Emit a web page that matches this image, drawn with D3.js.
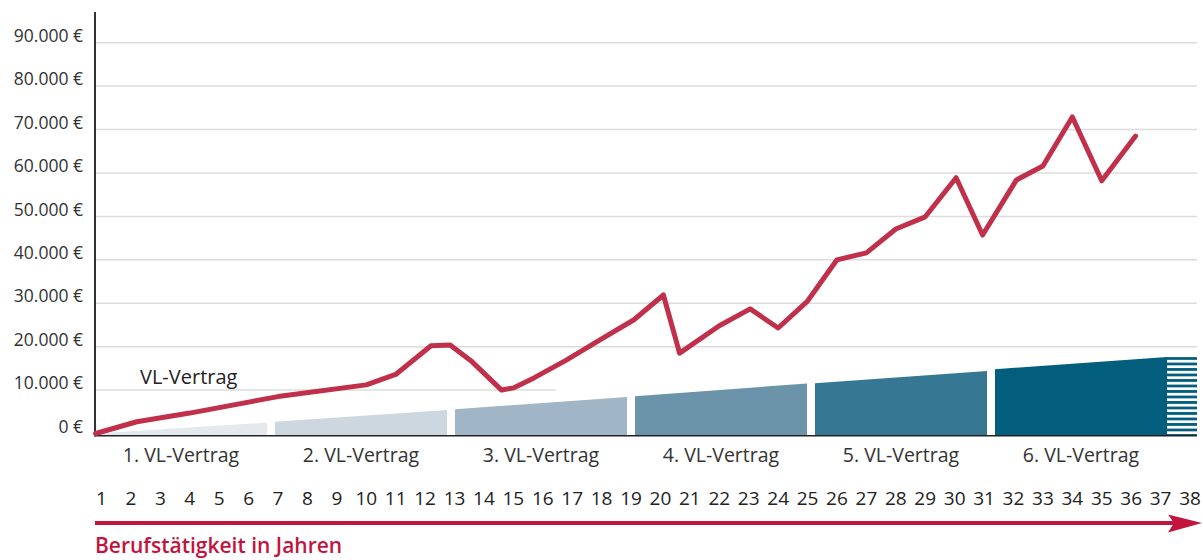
<!DOCTYPE html>
<html>
<head>
<meta charset="utf-8">
<script src="https://cdn.jsdelivr.net/npm/d3@7"></script>
<style>
  body { margin: 0; background: #fff; }
  svg { display: block; font-family: "Open Sans", "Noto Sans", sans-serif; }
</style>
</head>
<body>
<script>
// gridline values (€)
const yTicks = [0, 10000, 20000, 30000, 40000, 50000, 60000, 70000, 80000, 90000];

// years of employment shown under the chart
const years = d3.range(1, 39);

// the six VL contracts and their accumulated savings at start / end of each block
const contracts = ["1. VL-Vertrag", "2. VL-Vertrag", "3. VL-Vertrag", "4. VL-Vertrag", "5. VL-Vertrag", "6. VL-Vertrag"];
const vlStart = [0, 2700, 5600, 8600, 11600, 14800];
const vlEnd = [2500, 5400, 8400, 11500, 14400, 17600];
const vlColors = ["#e4e9ee", "#cdd7e0", "#a0b5c5", "#6b94ab", "#367893", "#035e7d"];

// red line: year, value
const lineYears = [0.8, 2.2, 4, 7, 10, 11, 12.2, 12.85, 13.6, 14.6, 15, 15.7, 16.8, 18, 19.1, 20.1, 20.65, 22, 23.05, 24, 25, 26, 27, 28, 29, 30.05, 30.95, 32.1, 33, 34, 35, 36.15];
const lineValues = [0, 2700, 4700, 8500, 11200, 13600, 20200, 20400, 16500, 10000, 10500, 12800, 16900, 21800, 26200, 31900, 18500, 24800, 28700, 24300, 30500, 40000, 41600, 47100, 49900, 58900, 45700, 58400, 61600, 72900, 58200, 68500];

const width = 1203, height = 560;
const left = 95, right = 1197;

const svg = d3.select("body").append("svg")
  .attr("width", width)
  .attr("height", height);

const y = d3.scaleLinear().domain([0, 90000]).range([433.5, 42.7]);
const x = d3.scaleLinear().domain([1, 38]).range([101.5, 1190]);
const xLab = d3.scalePoint().domain(years).range([101.5, 1190]);
const band = d3.scaleBand().domain(contracts).range([left, 1167]).paddingInner(8 / 180);

const euro = d3.formatLocale({decimal: ",", thousands: ".", grouping: [3], currency: ["", " €"]}).format("$,");

// gridlines
svg.append("g")
  .selectAll("line")
  .data(yTicks.filter(d => d > 0))
  .join("line")
  .attr("x1", left + 1)
  .attr("x2", d => d === 10000 ? 556 : right)
  .attr("y1", d => y(d))
  .attr("y2", d => y(d))
  .attr("stroke", "#dcdcdc")
  .attr("stroke-width", 1.5);

// y labels
svg.append("g")
  .selectAll("text")
  .data(yTicks)
  .join("text")
  .attr("x", 83)
  .attr("y", d => y(d) - 7)
  .attr("dy", "0.35em")
  .attr("text-anchor", "end")
  .attr("font-size", 17.5)
  .attr("fill", "#333")
  .text(d => euro(d));

// stripe pattern for the open-ended part
const pat = svg.append("defs").append("pattern")
  .attr("id", "stripes")
  .attr("patternUnits", "userSpaceOnUse")
  .attr("width", 10)
  .attr("height", 5.5)
  .attr("y", y(17600));
pat.append("rect").attr("width", 10).attr("height", 2.8).attr("fill", "#035e7d");

const base = 435.5;

// contract blocks
svg.append("g")
  .selectAll("path")
  .data(contracts)
  .join("path")
  .attr("d", (d, i) => {
    const x0 = band(d), x1 = band(d) + band.bandwidth();
    return `M${x0},${base}L${x0},${y(vlStart[i])}L${x1},${y(vlEnd[i])}L${x1},${base}Z`;
  })
  .attr("fill", (d, i) => vlColors[i]);

svg.append("rect")
  .attr("x", 1167)
  .attr("y", y(vlEnd[5]))
  .attr("width", right - 1167)
  .attr("height", base - y(vlEnd[5]))
  .attr("fill", "url(#stripes)");

// axes lines
svg.append("line")
  .attr("x1", left).attr("x2", left)
  .attr("y1", 12).attr("y2", 436.5)
  .attr("stroke", "#333").attr("stroke-width", 2);
svg.append("line")
  .attr("x1", left).attr("x2", right)
  .attr("y1", 435.8).attr("y2", 435.8)
  .attr("stroke", "#222").attr("stroke-width", 1.6);

// red line
const pts = lineYears.map((d, i) => [d, lineValues[i]]);
svg.append("path")
  .datum(pts)
  .attr("fill", "none")
  .attr("stroke", "#c1304b")
  .attr("stroke-width", 5)
  .attr("stroke-linejoin", "round")
  .attr("stroke-linecap", "round")
  .attr("d", d3.line().x(d => x(d[0])).y(d => y(d[1])));

svg.append("text")
  .attr("x", 140)
  .attr("y", 377)
  .attr("dy", "0.35em")
  .attr("font-size", 20)
  .attr("fill", "#222")
  .text("VL-Vertrag");

// contract labels
svg.append("g")
  .selectAll("text")
  .data(contracts)
  .join("text")
  .attr("x", d => band(d) + band.bandwidth() / 2)
  .attr("y", 455)
  .attr("dy", "0.35em")
  .attr("text-anchor", "middle")
  .attr("font-size", 19.5)
  .attr("fill", "#333")
  .text(d => d);

// year labels
svg.append("g")
  .selectAll("text")
  .data(years)
  .join("text")
  .attr("x", d => xLab(d))
  .attr("y", 498)
  .attr("dy", "0.35em")
  .attr("text-anchor", "middle")
  .attr("font-size", 19)
  .attr("fill", "#222")
  .text(d => d);

// arrow
const red = "#c3143f";
svg.append("line")
  .attr("x1", left).attr("x2", 1180)
  .attr("y1", 523).attr("y2", 523)
  .attr("stroke", red).attr("stroke-width", 3.8);
svg.append("path")
  .attr("d", "M1168,514.5L1202,523L1168,532.5L1174,523Z")
  .attr("fill", red);

svg.append("text")
  .attr("x", left)
  .attr("y", 545.5)
  .attr("dy", "0.35em")
  .attr("font-size", 21)
  .attr("font-weight", 600)
  .attr("fill", red)
  .text("Berufstätigkeit in Jahren");
</script>
</body>
</html>
